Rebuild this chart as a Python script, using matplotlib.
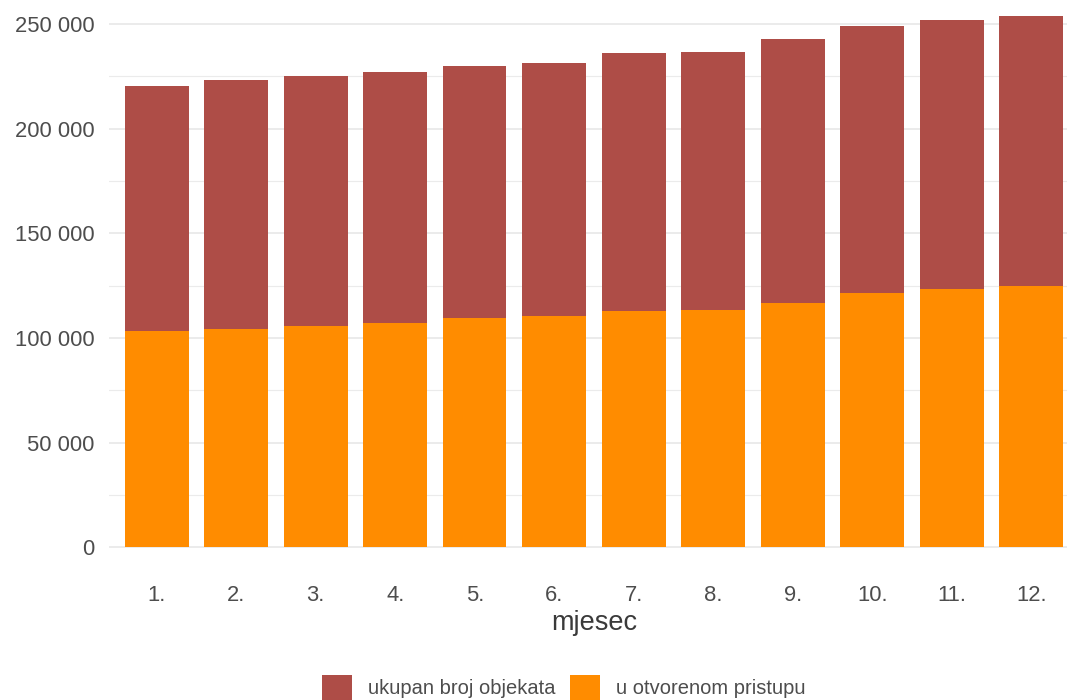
import matplotlib
matplotlib.use('Agg')
import matplotlib.pyplot as plt
from matplotlib.patches import Patch

plt.rcParams['font.family'] = ['Liberation Sans', 'DejaVu Sans']

# data
months = ['1.', '2.', '3.', '4.', '5.', '6.', '7.', '8.', '9.', '10.', '11.', '12.']
total = [220400, 223200, 225200, 226900, 230000, 231500,
         236200, 236700, 242900, 249000, 251900, 253800]
open_access = [103200, 104300, 105700, 107100, 109500, 110500,
               112900, 113400, 116800, 121600, 123400, 124800]
labels = ['ukupan broj objekata', 'u otvorenom pristupu']
y_ticks = [0, 50000, 100000, 150000, 200000, 250000]
y_tick_labels = ['0', '50 000', '100 000', '150 000', '200 000', '250 000']
y_minor = [25000, 75000, 125000, 175000, 225000]

c_total = '#AE4D47'
c_open = '#FF8C00'
txt = '#4D4D4D'
grid = '#EBEBEB'

fig = plt.figure(figsize=(10.67, 7.0), dpi=100)
# plot panel runs slightly past the right/top edge like the reference crop
ax = fig.add_axes([109/1067, 0.1803, 969.9/1067, 0.832])

x = list(range(1, len(months) + 1))
ax.bar(x, total, width=0.8, color=c_total, zorder=2)
ax.bar(x, open_access, width=0.8, color=c_open, zorder=3)

ax.set_xlim(0.4, 12.6)
ax.set_ylim(-12650, 265650)

ax.set_xticks(x)
ax.set_xticklabels(months)
ax.set_yticks(y_ticks)
ax.set_yticklabels(y_tick_labels)
ax.set_yticks(y_minor, minor=True)

ax.set_axisbelow(True)
ax.grid(axis='y', which='major', color=grid, lw=1.4, zorder=0)
ax.grid(axis='y', which='minor', color=grid, lw=0.8, zorder=0)
ax.grid(axis='x', visible=False)

for s in ax.spines.values():
    s.set_visible(False)
ax.tick_params(axis='both', which='both', length=0, labelsize=15.8, labelcolor=txt)
ax.tick_params(axis='x', pad=8)
ax.tick_params(axis='y', pad=10.5)

ax.set_xlabel('mjesec', fontsize=19.5, color='#3A3A3A', labelpad=3)

handles = [Patch(facecolor=c_total), Patch(facecolor=c_open)]
fig.legend(handles, labels, loc='center', bbox_to_anchor=(564/1067, 1 - 687.7/700),
           ncol=2, frameon=False, fontsize=14.5, labelcolor=txt,
           handlelength=1.5, handleheight=1.5, handletextpad=0.8, columnspacing=0.7)

fig.savefig('out.png', dpi=100)
